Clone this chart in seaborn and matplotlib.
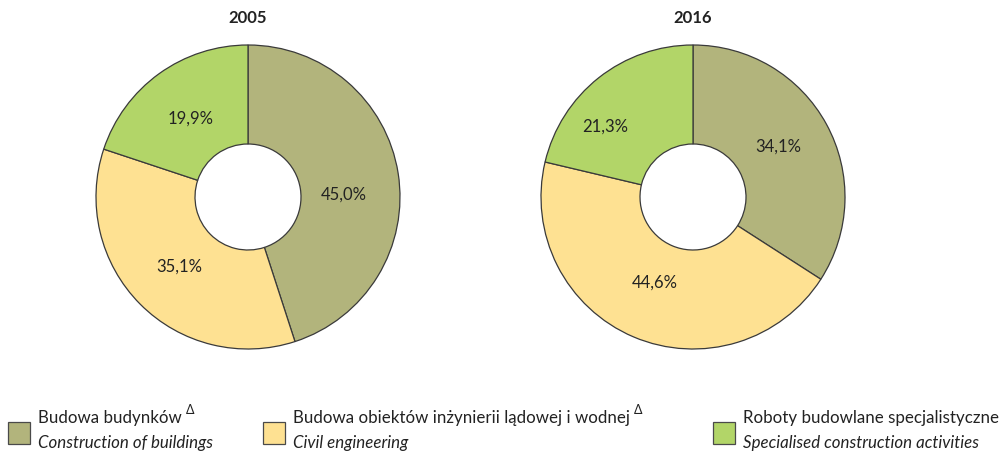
import matplotlib
matplotlib.use("Agg")
import matplotlib.pyplot as plt
import seaborn as sns
from matplotlib.patches import Rectangle

sns.set_theme(style="white")
plt.rcParams['font.family'] = ['Lato', 'DejaVu Sans']

# Data
years = ["2005", "2016"]
shares_2005 = [45.0, 35.1, 19.9]
shares_2016 = [34.1, 44.6, 21.3]
labels_pl = ["Budowa budynków", "Budowa obiektów inżynierii lądowej i wodnej",
             "Roboty budowlane specjalistyczne"]
labels_en = ["Construction of buildings", "Civil engineering",
             "Specialised construction activities"]
has_delta = [True, True, False]
colors = ["#b2b47c", "#fee192", "#b2d568"]

W, H = 1008, 456
fig = plt.figure(figsize=(W / 100, H / 100), dpi=100)

centers = [(248, 198), (693, 198)]
R = 152
# small hand nudges of the percentage labels (in pie-radius units)
nudges = [[(0.0, -0.08), (0.0, 0.0), (0.0, 0.0)],
          [(0.0, 0.03), (0.0, 0.03), (-0.18, -0.03)]]
for (cx, cy), year, vals, nud in zip(centers, years, [shares_2005, shares_2016], nudges):
    half = 170
    ax = fig.add_axes([(cx - half) / W, (H - cy - half) / H, 2 * half / W, 2 * half / H])
    wedges, texts, autotexts = ax.pie(
        vals, colors=colors, startangle=90, counterclock=False,
        autopct=lambda p: f"{p:.1f}%".replace(".", ","), pctdistance=0.64,
        wedgeprops=dict(width=1 - 53 / R, edgecolor="#3a3a3a", linewidth=0.9),
        textprops=dict(fontsize=12, color="#222222"))
    for at, (dx, dy) in zip(autotexts, nud):
        x, y = at.get_position()
        at.set_position((x + dx, y + dy))
    lim = half / R
    ax.set_xlim(-lim, lim)
    ax.set_ylim(-lim, lim)
    ax.set_aspect("equal")
    ax.axis("off")
    fig.text(cx / W, (H - 18) / H, year, ha="center", va="center",
             fontsize=12, fontweight="bold", color="#222222")

# Legend
box_x = [8, 263, 713]
fig.canvas.draw()
renderer = fig.canvas.get_renderer()
for bx, col, pl, en, d in zip(box_x, colors, labels_pl, labels_en, has_delta):
    fig.add_artist(Rectangle((bx / W, (H - 445) / H), 22 / W, 22 / H,
                             transform=fig.transFigure, facecolor=col,
                             edgecolor="#4a4a4a", linewidth=0.9))
    t = fig.text((bx + 30) / W, (H - 418) / H, pl, ha="left", va="center",
                 fontsize=12.2, color="#222222")
    fig.text((bx + 30) / W, (H - 443) / H, en, ha="left", va="center",
             fontsize=12.2, style="italic", color="#222222")
    if d:
        ext = t.get_window_extent(renderer)
        fig.text((ext.x1 + 4) / W, (H - 410) / H, "Δ", ha="left", va="center",
                 fontsize=9, color="#222222")

fig.savefig("out.png", dpi=100)
